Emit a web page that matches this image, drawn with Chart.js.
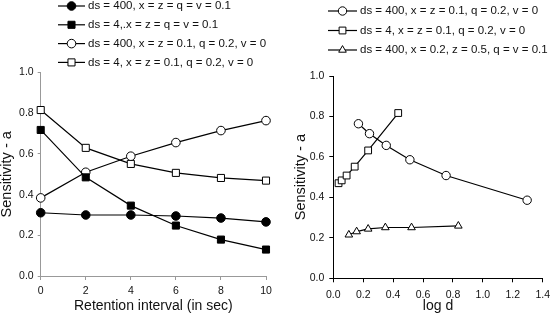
<!DOCTYPE html>
<html>
<head>
<meta charset="utf-8">
<script src="https://cdn.jsdelivr.net/npm/chart.js@4/dist/chart.umd.min.js"></script>
<style>
  html, body { margin: 0; padding: 0; background: #fff; }
  #wrap { position: relative; width: 557px; height: 315px; }
  #left-chart { position: absolute; left: 0; top: 0; }
  #right-chart { position: absolute; left: 280px; top: 0; }
</style>
</head>
<body>
<div id="wrap">
  <canvas id="left-chart" width="280" height="315"></canvas>
  <canvas id="right-chart" width="277" height="315"></canvas>
</div>
<script>
// left panel: sensitivity vs retention interval
const retentionTimes = [0, 2, 4, 6, 8, 10];
const leftLabels = [
  'ds = 400, x = z = q = v = 0.1',
  'ds = 4,.x = z = q = v = 0.1',
  'ds = 400, x = z = 0.1, q = 0.2, v = 0',
  'ds = 4, x = z = 0.1, q = 0.2, v = 0',
];
const ds400Equal = [0.311, 0.300, 0.300, 0.295, 0.285, 0.266];
const ds4Equal = [0.718, 0.485, 0.346, 0.248, 0.179, 0.130];
const ds400Q02 = [0.384, 0.510, 0.589, 0.656, 0.715, 0.764];
const ds4Q02 = [0.816, 0.630, 0.551, 0.507, 0.482, 0.469];

// right panel: sensitivity vs log d
const rightLabels = [
  'ds = 400, x = z = 0.1, q = 0.2, v = 0',
  'ds = 4, x = z = 0.1, q = 0.2, v = 0',
  'ds = 400, x = 0.2, z = 0.5, q = v = 0.1',
];
const logD400 = [0.168, 0.242, 0.354, 0.512, 0.754, 1.296];
const sens400 = [0.764, 0.715, 0.657, 0.586, 0.508, 0.386];
const logD4 = [0.035, 0.056, 0.089, 0.143, 0.233, 0.434];
const sens4 = [0.470, 0.484, 0.508, 0.552, 0.632, 0.817];
const logDTri = [0.104, 0.156, 0.233, 0.348, 0.523, 0.836];
const sensTri = [0.215, 0.231, 0.244, 0.251, 0.251, 0.259];

const sensTicks = [0, 0.2, 0.4, 0.6, 0.8, 1.0];

Chart.defaults.font.family = '"Liberation Sans", Arial, sans-serif';
Chart.defaults.color = '#111';

const toPoints = (xs, ys) => xs.map((x, i) => ({ x: x, y: ys[i] }));

function series(label, points, style, radius, filled) {
  return {
    label: label,
    data: points,
    borderColor: '#000',
    borderWidth: 1.2,
    pointStyle: style,
    pointRadius: radius,
    pointBorderWidth: 1,
    pointBorderColor: '#000',
    pointBackgroundColor: filled ? '#000' : '#fff',
    tension: 0,
    clip: false,
  };
}

// legend drawn as a short line with the marker on it
const lineLegend = {
  id: 'lineLegend',
  afterDraw(chart, args, opts) {
    const ctx = chart.ctx;
    ctx.save();
    chart.data.datasets.forEach((ds, i) => {
      const y = opts.top + i * opts.gap;
      ctx.strokeStyle = '#000';
      ctx.lineWidth = 1.2;
      ctx.beginPath();
      ctx.moveTo(opts.x, y);
      ctx.lineTo(opts.x + opts.len, y);
      ctx.stroke();
      ctx.fillStyle = ds.pointBackgroundColor;
      ctx.lineWidth = 1;
      Chart.helpers.drawPoint(ctx, {
        pointStyle: ds.pointStyle, radius: ds.pointRadius, borderWidth: 1, rotation: 0,
      }, opts.x + opts.len / 2, y);
      ctx.fillStyle = '#111';
      ctx.font = opts.font;
      ctx.textBaseline = 'middle';
      ctx.textAlign = 'left';
      ctx.fillText(ds.label, opts.x + opts.len + 3, y);
    });
    ctx.restore();
  },
};

function axisX(min, max, step, title, color, height, pad, fmt) {
  return {
    type: 'linear', min: min, max: max,
    ticks: { stepSize: step, font: { size: 10.5 }, color: '#111', padding: pad, maxRotation: 0,
      callback: fmt },
    grid: { display: true, drawOnChartArea: false, drawTicks: true, tickLength: 4, color: color },
    border: { display: true, color: color, width: 1 },
    title: { display: true, text: title, font: { size: 14 }, color: '#111', padding: { top: 0, bottom: 0 } },
    afterFit: (s) => { s.height = height; },
  };
}

function axisY(color, width, tickLen, pad, titlePad) {
  return {
    type: 'linear', min: 0, max: 1,
    afterBuildTicks: (s) => { s.ticks = sensTicks.map((v) => ({ value: v })); },
    ticks: { font: { size: 10.5 }, color: '#111', padding: pad, callback: (v) => v.toFixed(1) },
    grid: { display: true, drawOnChartArea: false, drawTicks: true, tickLength: tickLen, color: color },
    border: { display: true, color: color, width: 1 },
    title: { display: true, text: 'Sensitivity - a', font: { size: 14.5 }, color: '#111', padding: { top: titlePad, bottom: 0 } },
    afterFit: (s) => { s.width = width; },
  };
}

new Chart(document.getElementById('left-chart').getContext('2d'), {
  type: 'line',
  data: {
    datasets: [
      series(leftLabels[0], toPoints(retentionTimes, ds400Equal), 'circle', 4.3, true),
      series(leftLabels[1], toPoints(retentionTimes, ds4Equal), 'rect', 5, true),
      series(leftLabels[2], toPoints(retentionTimes, ds400Q02), 'circle', 4.3, false),
      series(leftLabels[3], toPoints(retentionTimes, ds4Q02), 'rect', 5, false),
    ],
  },
  options: {
    responsive: false,
    animation: false,
    layout: { padding: { top: 72.6, right: 14, left: 0, bottom: 0 } },
    plugins: {
      legend: { display: false },
      tooltip: { enabled: false },
      lineLegend: { x: 58, len: 27, top: 6, gap: 18.8, font: '11.5px "Liberation Sans", Arial, sans-serif' },
    },
    scales: {
      x: axisX(0, 10, 2, 'Retention interval (in sec)', '#999', 39, 5, (v) => v),
      y: axisY('#999', 40.7, 3, 4, -2),
    },
  },
  plugins: [lineLegend],
});

new Chart(document.getElementById('right-chart').getContext('2d'), {
  type: 'line',
  data: {
    datasets: [
      series(rightLabels[0], toPoints(logD400, sens400), 'circle', 4.2, false),
      series(rightLabels[1], toPoints(logD4, sens4), 'rect', 4.8, false),
      series(rightLabels[2], toPoints(logDTri, sensTri), 'triangle', 4.4, false),
    ],
  },
  options: {
    responsive: false,
    animation: false,
    layout: { padding: { top: 76, right: 7.7, left: 12, bottom: 0 } },
    plugins: {
      legend: { display: false },
      tooltip: { enabled: false },
      lineLegend: { x: 48, len: 29, top: 11, gap: 19.5, font: '11.5px "Liberation Sans", Arial, sans-serif' },
    },
    scales: {
      x: axisX(0, 1.4, 0.2, 'log d', '#000', 36.7, 7, (v) => v.toFixed(1)),
      y: axisY('#000', 41.3, 4, 5, 0),
    },
  },
  plugins: [lineLegend],
});
</script>
</body>
</html>
